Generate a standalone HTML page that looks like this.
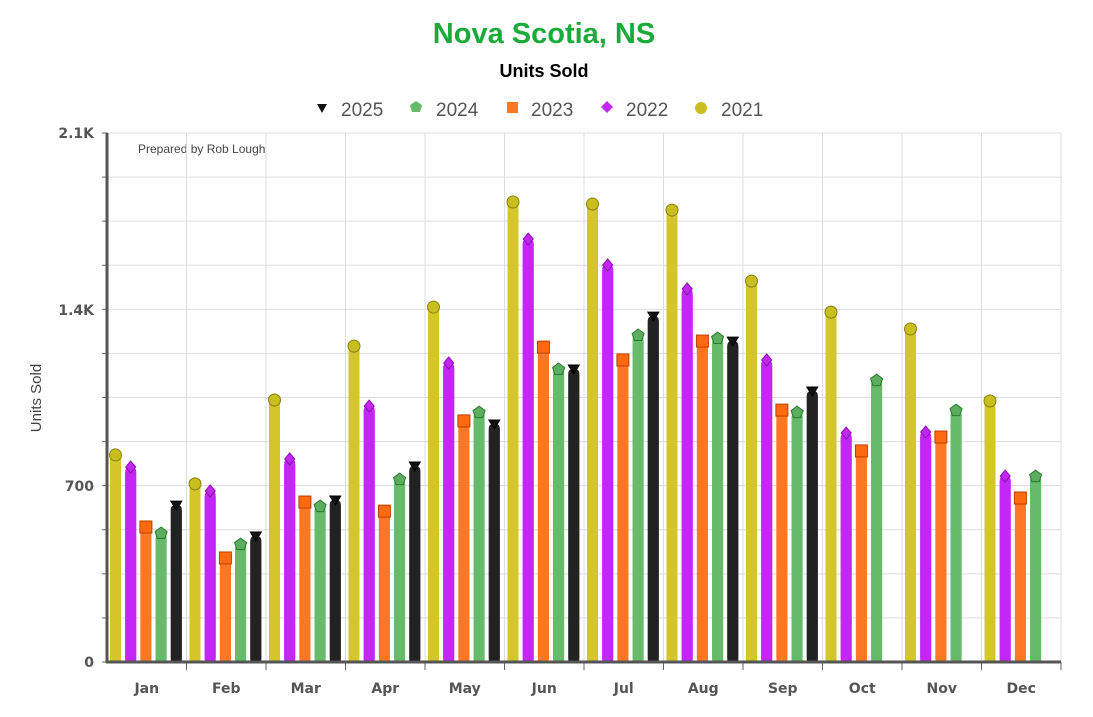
<!DOCTYPE html>
<html><head><meta charset="utf-8"><style>
body{margin:0;background:#fff;font-family:"Liberation Sans",Arial,sans-serif;}
</style></head><body>
<svg id="c" width="1093" height="712" xmlns="http://www.w3.org/2000/svg" font-family="Liberation Sans, Arial, sans-serif">
<rect width="1093" height="712" fill="#fff"/>
<text x="544" y="43" text-anchor="middle" font-size="29" font-weight="bold" fill="#1aaa3a">Nova Scotia, NS</text>
<text x="544" y="77" text-anchor="middle" font-size="18" font-weight="bold" fill="#000">Units Sold</text>
<g font-size="19" fill="#555">
<path d="M317,104 l10,0 l-5,9z" fill="#111"/><text x="341" y="116">2025</text>
<path d="M416,101 l6,4 l-2,7 l-8,0 l-2,-7z" fill="#66bb6a"/><text x="436" y="116">2024</text>
<rect x="507" y="102" width="11" height="11" fill="#ff7722"/><text x="531" y="116">2023</text>
<path d="M607,101 l6,6 l-6,6 l-6,-6z" fill="#c326f5"/><text x="626" y="116">2022</text>
<circle cx="701" cy="108" r="6" fill="#c8be1e"/><text x="721" y="116">2021</text>
</g>
<text x="138" y="153" font-size="12" fill="#444">Prepared by Rob Lough</text>
<text transform="translate(41,398) rotate(-90)" text-anchor="middle" font-size="15" fill="#444">Units Sold</text>
<g id="g"></g>
</svg>
<script>
const g=document.getElementById('g');let s='';
const X0=107,X1=1061,Y0=662,k=529/2100;
for(let i=0;i<=12;i++){const y=Y0-i*175*k;s+=`<line x1="${X0}" x2="${X1}" y1="${y}" y2="${y}" stroke="#ddd"/><line x1="102" x2="${X0}" y1="${y}" y2="${y}" stroke="#666"/>`;}
const W=(X1-X0)/12;
for(let i=1;i<=12;i++){const x=X0+i*W;s+=`<line x1="${x}" x2="${x}" y1="133" y2="${Y0}" stroke="#ddd"/><line x1="${x}" x2="${x}" y1="${Y0}" y2="${Y0+8}" stroke="#666"/>`;}
const d=[[822,774,536,512,623],[707,679,413,468,500],[1040,806,635,619,643],[1254,1016,599,726,778],[1409,1187,957,992,945],[1826,1679,1250,1163,1163],[1818,1576,1199,1298,1373],[1794,1481,1274,1286,1274],[1512,1199,1000,992,1076],[1389,909,838,1119,null],[1322,913,893,1000,null],[1036,738,651,738,null]];
const col=['#d4c62a','#c326f5','#ff7722','#66bb6a','#222'];
const mc=['#c8be1e','#c326f5','#ff6a10','#5aae5e','#111'];
const bc=['#8a8010','#8a10b0','#b84000','#2a7a2e','#000'];
const M=['Jan','Feb','Mar','Apr','May','Jun','Jul','Aug','Sep','Oct','Nov','Dec'];
d.forEach((r,m)=>{r.forEach((v,j)=>{if(v==null)return;const cx=X0+m*W+8.5+j*15.2,y=Y0-v*k;
s+=`<rect x="${cx-5.5}" y="${y}" width="11" height="${Y0-y}" rx="4" fill="${col[j]}"/><rect x="${cx-5.5}" y="${y+5}" width="11" height="${Y0-y-5}" fill="${col[j]}"/>`;
if(j==0)s+=`<circle cx="${cx}" cy="${y}" r="6" fill="${mc[j]}" stroke="${bc[j]}"/>`;
if(j==1)s+=`<path d="M${cx},${y-6} l5,6 l-5,6 l-5,-6z" fill="${mc[j]}" stroke="${bc[j]}"/>`;
if(j==2)s+=`<rect x="${cx-6}" y="${y-6}" width="12" height="12" fill="${mc[j]}" stroke="${bc[j]}"/>`;
if(j==3)s+=`<path d="M${cx},${y-6} l6,4.5 l-2.3,7 l-7.4,0 l-2.3,-7z" fill="${mc[j]}" stroke="${bc[j]}"/>`;
if(j==4)s+=`<path d="M${cx-5.5},${y-4} l11,0 l-5.5,9z" fill="${mc[j]}" stroke="${bc[j]}"/>`;});
s+=`<text x="${X0+m*W+W/2}" y="693" text-anchor="middle" font-family="DejaVu Sans, sans-serif" font-size="14" font-weight="bold" fill="#555">${M[m]}</text>`;});
s+=`<line x1="${X0}" x2="${X0}" y1="133" y2="${Y0+1}" stroke="#555" stroke-width="3"/><line x1="${X0-1}" x2="${X1}" y1="${Y0}" y2="${Y0}" stroke="#555" stroke-width="3"/>`;
[['0',662],['700',486],['1.4K',310],['2.1K',133]].forEach(a=>s+=`<text x="94" y="${a[1]+5}" text-anchor="end" font-family="DejaVu Sans, sans-serif" font-size="14" font-weight="bold" fill="#555">${a[0]}</text>`);
g.innerHTML=s;
</script>
</body></html>
